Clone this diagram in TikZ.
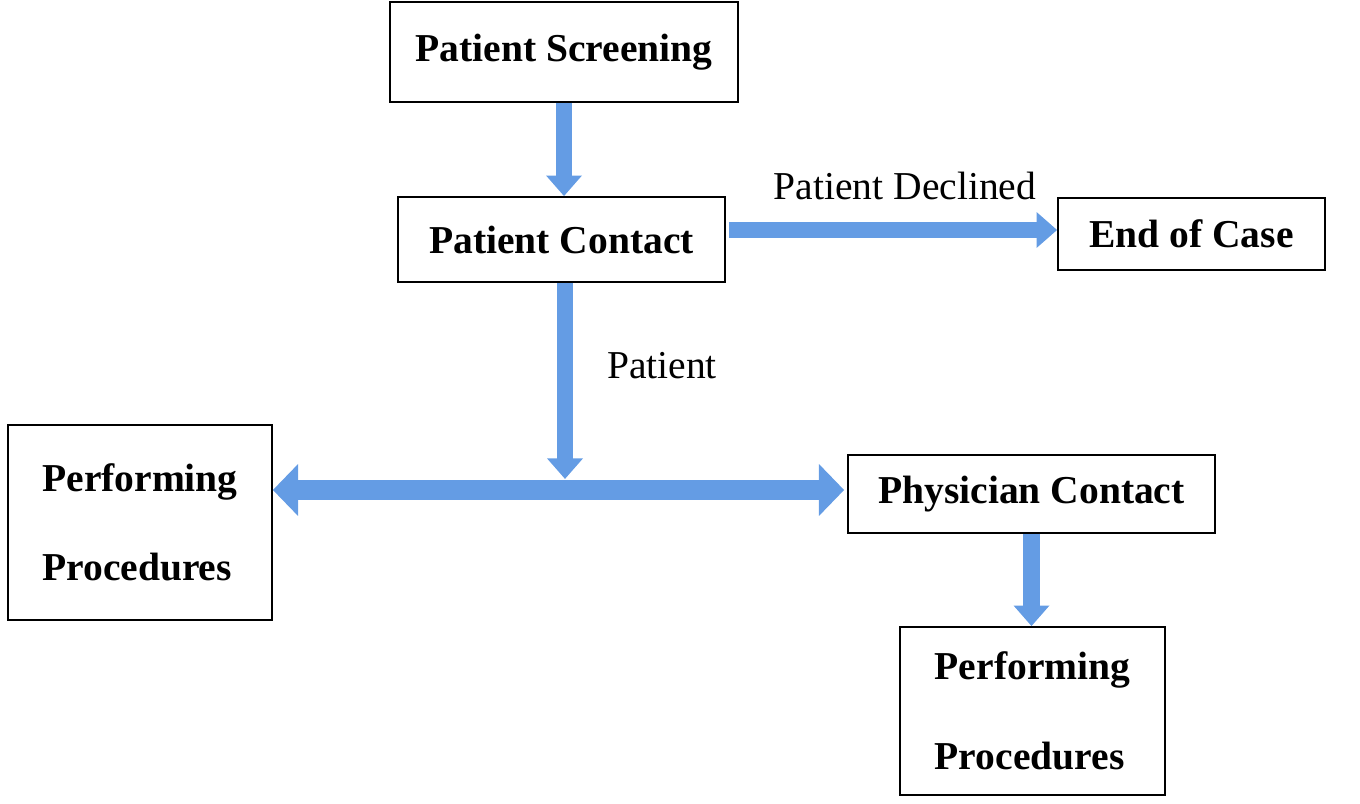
\documentclass[tikz,border=0pt]{standalone}
\usepackage{fontspec}
\setmainfont{Liberation Serif}
\usetikzlibrary{arrows.meta}
\usetikzlibrary{calc}

\definecolor{flowblue}{RGB}{100,156,228}

\tikzset{
  stepbox/.style={draw, line width=1pt, inner sep=0pt, font=\bfseries\fontsize{22.5}{51}\selectfont},
  steplabel/.style={font=\fontsize{22.5}{27}\selectfont},
  fatarrow/.style={line width=0.33cm, flowblue, -{Triangle[width=0pt 2.1, length=0pt 1.25]}},
  widearrow/.style={line width=0.42cm, flowblue,
    {Triangle[width=0pt 2.4, length=0pt 1.2]}-{Triangle[width=0pt 2.4, length=0pt 1.2]}}
}

\begin{document}
\begin{tikzpicture}[x=0.02cm, y=-0.02cm]
    \useasboundingbox (0,0) rectangle (1360,804);
    % boxes
    \node[stepbox, minimum width=6.96cm, minimum height=2.0cm] (screen) at (564,52) {Patient Screening};
    \node[stepbox, minimum width=6.54cm, minimum height=1.7cm] (contact) at (561.5,239.5) {Patient Contact};
    \node[stepbox, minimum width=5.34cm, minimum height=1.44cm] (endcase) at (1191.5,234) {End of Case};
    \node[stepbox, minimum width=5.28cm, minimum height=3.9cm, align=left] (procL) at (140,522.5) {Performing\\Procedures};
    \node[stepbox, minimum width=7.34cm, minimum height=1.56cm] (phys) at (1031.5,494) {Physician Contact};
    \node[stepbox, minimum width=5.3cm, minimum height=3.36cm, align=left] (procB) at (1032.5,711) {Performing\\Procedures};
    % labels
    \node[steplabel] (declined) at (905,186) {Patient Declined};
    \node[steplabel] (agreed) at (662,366) {Patient};
    % arrows
    \coordinate (declineStart) at ($(contact.east)+(3,-9.5)$);
    \coordinate (junction) at (565,490);
    \draw[fatarrow] (screen.south) -- (screen.south |- contact.north);
    \draw[fatarrow] (declineStart) -- (declineStart -| endcase.west);
    \draw[fatarrow] (junction |- contact.south) -- ($(junction)+(0,-11)$);
    \draw[widearrow] (procL.east |- junction) -- ($(phys.west |- junction)+(-3,0)$);
    \draw[fatarrow] (phys.south) -- (phys.south |- procB.north);
  \end{tikzpicture}
\end{document}
